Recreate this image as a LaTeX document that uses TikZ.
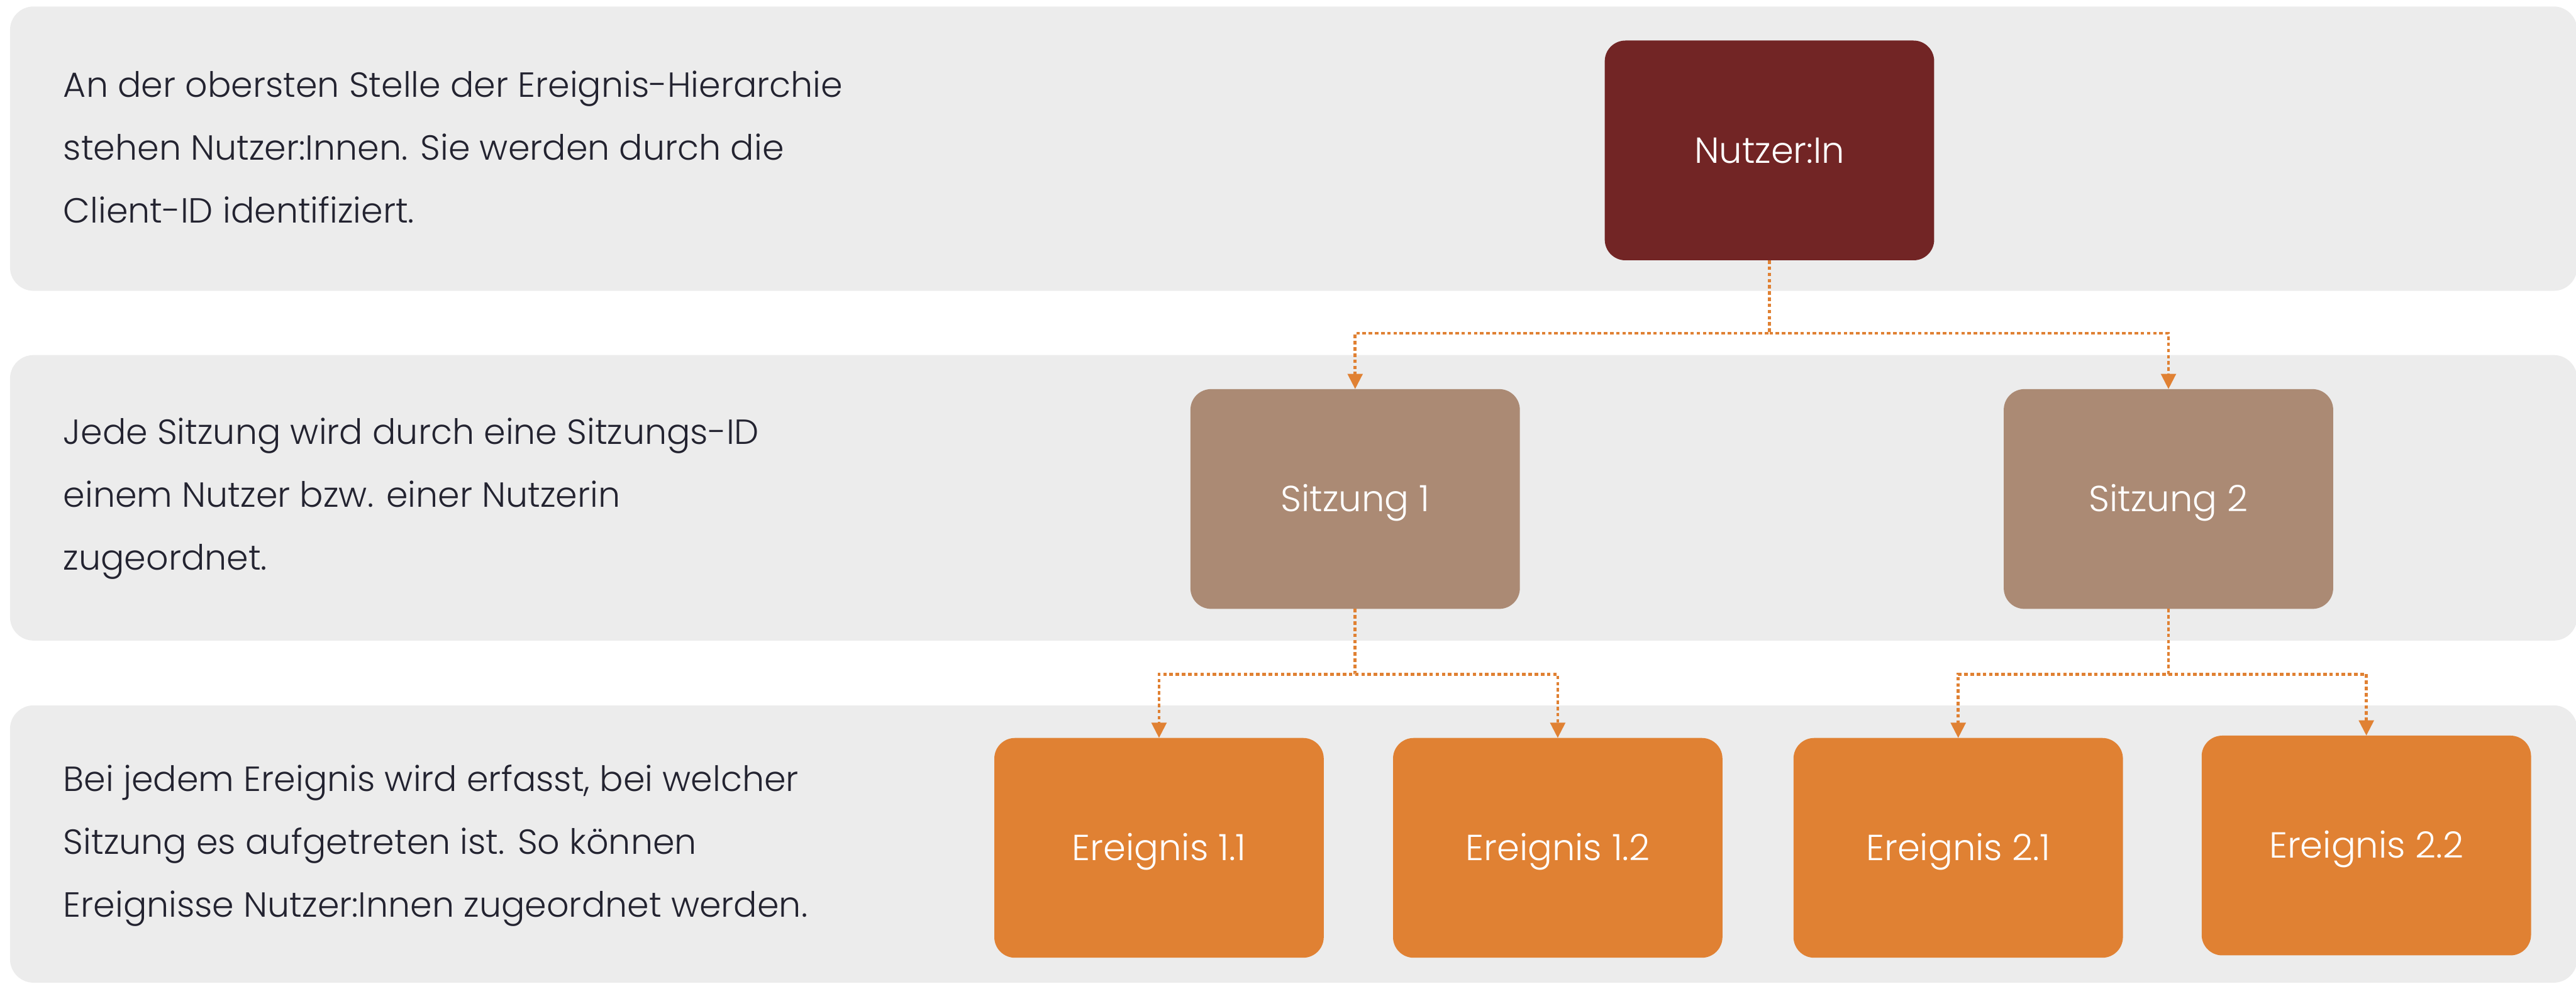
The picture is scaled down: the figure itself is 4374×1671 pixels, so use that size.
\documentclass[tikz,border=0pt]{standalone}
\usepackage{fontspec}
\setmainfont{Poppins}[UprightFont=* Light]
\usetikzlibrary{arrows.meta}
\definecolor{panelgray}{RGB}{236,236,236}
\definecolor{userred}{RGB}{114,37,37}
\definecolor{sessionbrown}{RGB}{171,138,116}
\definecolor{eventorange}{RGB}{224,129,51}
\definecolor{bodytext}{RGB}{35,35,48}
\tikzset{
  panel/.style={fill=panelgray, draw=none, rounded corners=0.4cm},
  box/.style={rectangle, rounded corners=0.35cm, minimum width=5.59cm, minimum height=3.73cm,
    inner sep=0pt, outer sep=0pt, text=white, text height=12.2pt, text depth=0pt,
    font=\fontsize{17.5}{20}\selectfont},
  userbox/.style={box, fill=userred},
  sessionbox/.style={box, fill=sessionbrown},
  eventbox/.style={box, fill=eventorange},
  desc/.style={anchor=west, align=left, inner sep=0pt, text=bodytext,
    font=\fontsize{16.85}{30.4}\selectfont},
  conn/.style={draw=eventorange, line width=0.05cm, dash pattern=on 0.06cm off 0.045cm,
    -{Triangle[width=0.25cm, length=0.26cm]}},
}
\begin{document}
\begin{tikzpicture}[x=0.01cm, y=-0.01cm]
\useasboundingbox (0,0) rectangle (4374,1671);
% level bands
\path[panel] (17,11) rectangle (4376,494);
\path[panel] (17,603) rectangle (4376,1088);
\path[panel] (17,1198) rectangle (4376,1669);

% descriptions
\node[desc] (d1) at (107,250) {An der obersten Stelle der Ereignis-Hierarchie\\stehen Nutzer:Innen. Sie werden durch die\\Client-ID identifiziert.};
\node[desc] (d2) at (107,847) {Jede Sitzung wird durch eine Sitzungs-ID\\einem Nutzer bzw. einer Nutzerin\\zugeordnet.};
\node[desc] (d3) at (107,1436) {Bei jedem Ereignis wird erfasst, bei welcher\\Sitzung es aufgetreten ist. So können\\Ereignisse Nutzer:Innen zugeordnet werden.};

% hierarchy
\node[userbox] (user) at (3004.5,255.5) {Nutzer:In};
\node[sessionbox] (s1) at (2301,847.5) {Sitzung 1};
\node[sessionbox] (s2) at (3682,847.5) {Sitzung 2};
\node[eventbox] (e11) at (1968,1440) {Ereignis 1.1};
\node[eventbox] (e12) at (2645,1440) {Ereignis 1.2};
\node[eventbox] (e21) at (3325,1440) {Ereignis 2.1};
\node[eventbox] (e22) at (4018,1436) {Ereignis 2.2};

% branch points
\coordinate (j0) at (3004.5,566);
\coordinate (j1) at (2301,1145);
\coordinate (j2) at (3682,1145);

\draw[conn] (user.south) -- (j0) -| (s1.north);
\draw[conn] (j0) -| (s2.north);
\draw[conn] (s1.south) -- (j1) -| (e11.north);
\draw[conn] (j1) -| (e12.north);
\draw[conn] (s2.south) -- (j2) -| (e21.north);
\draw[conn] (j2) -| (e22.north);
\end{tikzpicture}
\end{document}
